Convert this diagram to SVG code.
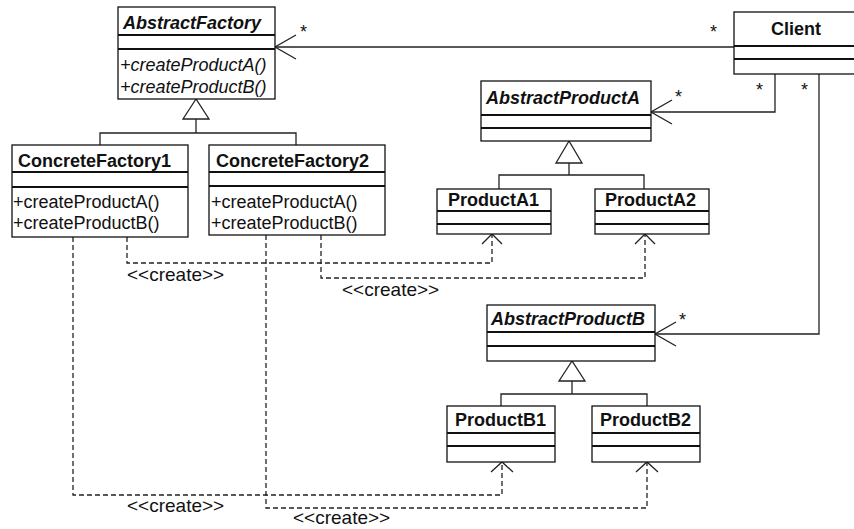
<svg xmlns="http://www.w3.org/2000/svg" width="854" height="529" viewBox="0 0 854 529">
<style>
text{font-family:"Liberation Sans",Arial,sans-serif;font-size:18px;fill:#111}
.n{font-weight:bold}
.a{font-style:italic}
.cr{font-size:19px}
.box{fill:#fff;stroke:#111;stroke-width:1.3}
.div{stroke:#111;stroke-width:2}
.c{fill:none;stroke:#222;stroke-width:1.3}
.d{fill:none;stroke:#222;stroke-width:1.3;stroke-dasharray:5 3}
.tri{fill:#fff;stroke:#222;stroke-width:1.3}
</style>
<g id="connectors">
<polyline class="c" points="734,47 275,47"/>
<polyline class="c" points="296,35 275,47 296,59"/>
<polyline class="c" points="775,74 775,112 651,112"/>
<polyline class="c" points="672,100 651,112 672,124"/>
<polyline class="c" points="819,74 819,334 655,334"/>
<polyline class="c" points="676,322 655,334 676,346"/>
<polyline class="c" points="196,119 196,133"/>
<polyline class="c" points="100,145 100,133 296,133 296,145"/>
<polygon class="tri" points="196,99 183,119 209,119"/>
<polyline class="c" points="569,163 569,175"/>
<polyline class="c" points="499,189 499,175 644,175 644,189"/>
<polygon class="tri" points="569,141 556,163 582,163"/>
<polyline class="c" points="572,381 572,394"/>
<polyline class="c" points="501,406 501,394 647,394 647,406"/>
<polygon class="tri" points="572,361 559,381 585,381"/>
<polyline class="d" points="127,237 127,263 492,263 492,235"/>
<polyline class="c" points="482,244 492,234 502,244"/>
<polyline class="d" points="321,235 321,278 645,278 645,235"/>
<polyline class="c" points="635,244 645,234 655,244"/>
<polyline class="d" points="73,237 73,495 502,495 502,463"/>
<polyline class="c" points="491,472 502,462 513,472"/>
<polyline class="d" points="266,235 266,508 647,508 647,463"/>
<polyline class="c" points="636,472 647,462 658,472"/>
<text class="cr" x="127" y="281">&lt;&lt;create&gt;&gt;</text>
<text class="cr" x="342" y="296">&lt;&lt;create&gt;&gt;</text>
<text class="cr" x="127" y="512">&lt;&lt;create&gt;&gt;</text>
<text class="cr" x="293" y="524">&lt;&lt;create&gt;&gt;</text>
<text x="300" y="38">*</text>
<text x="710" y="38">*</text>
<text x="675" y="103">*</text>
<text x="756" y="96">*</text>
<text x="801" y="96">*</text>
<text x="679" y="326">*</text>
</g>
<g id="AbstractFactory">
<rect class="box" x="118" y="7" width="157" height="92"/>
<line class="div" x1="118" y1="35" x2="275" y2="35"/>
<line class="div" x1="118" y1="49" x2="275" y2="49"/>
<text class="n a" x="123" y="29">AbstractFactory</text>
<text class="a" x="120" y="71">+createProductA()</text>
<text class="a" x="120" y="93">+createProductB()</text>
</g>
<g id="ConcreteFactory1">
<rect class="box" x="12" y="145" width="176" height="92"/>
<line class="div" x1="12" y1="172" x2="188" y2="172"/>
<line class="div" x1="12" y1="187" x2="188" y2="187"/>
<text class="n" x="18" y="167">ConcreteFactory1</text>
<text x="13" y="208">+createProductA()</text>
<text x="13" y="229">+createProductB()</text>
</g>
<g id="ConcreteFactory2">
<rect class="box" x="209" y="145" width="176" height="90"/>
<line class="div" x1="209" y1="172" x2="385" y2="172"/>
<line class="div" x1="209" y1="186" x2="385" y2="186"/>
<text class="n" x="216" y="167">ConcreteFactory2</text>
<text x="211" y="208">+createProductA()</text>
<text x="211" y="229">+createProductB()</text>
</g>
<g id="Client">
<rect class="box" x="734" y="12" width="126" height="62"/>
<line class="div" x1="734" y1="46" x2="860" y2="46"/>
<line class="div" x1="734" y1="59" x2="860" y2="59"/>
<text class="n" x="771" y="35">Client</text>
</g>
<g id="AbstractProductA">
<rect class="box" x="481" y="81" width="170" height="60"/>
<line class="div" x1="481" y1="115" x2="651" y2="115"/>
<line class="div" x1="481" y1="128" x2="651" y2="128"/>
<text class="n a" x="486" y="104">AbstractProductA</text>
</g>
<g id="ProductA1">
<rect class="box" x="437" y="189" width="114" height="45"/>
<line class="div" x1="437" y1="211" x2="551" y2="211"/>
<line class="div" x1="437" y1="224" x2="551" y2="224"/>
<text class="n" x="448" y="206">ProductA1</text>
</g>
<g id="ProductA2">
<rect class="box" x="595" y="189" width="114" height="45"/>
<line class="div" x1="595" y1="211" x2="709" y2="211"/>
<line class="div" x1="595" y1="224" x2="709" y2="224"/>
<text class="n" x="605" y="206">ProductA2</text>
</g>
<g id="AbstractProductB">
<rect class="box" x="487" y="305" width="168" height="56"/>
<line class="div" x1="487" y1="332" x2="655" y2="332"/>
<line class="div" x1="487" y1="346" x2="655" y2="346"/>
<text class="n a" x="491" y="325">AbstractProductB</text>
</g>
<g id="ProductB1">
<rect class="box" x="447" y="406" width="108" height="56"/>
<line class="div" x1="447" y1="433" x2="555" y2="433"/>
<line class="div" x1="447" y1="446" x2="555" y2="446"/>
<text class="n" x="455" y="426">ProductB1</text>
</g>
<g id="ProductB2">
<rect class="box" x="592" y="406" width="108" height="56"/>
<line class="div" x1="592" y1="433" x2="700" y2="433"/>
<line class="div" x1="592" y1="446" x2="700" y2="446"/>
<text class="n" x="600" y="426">ProductB2</text>
</g>
</svg>
